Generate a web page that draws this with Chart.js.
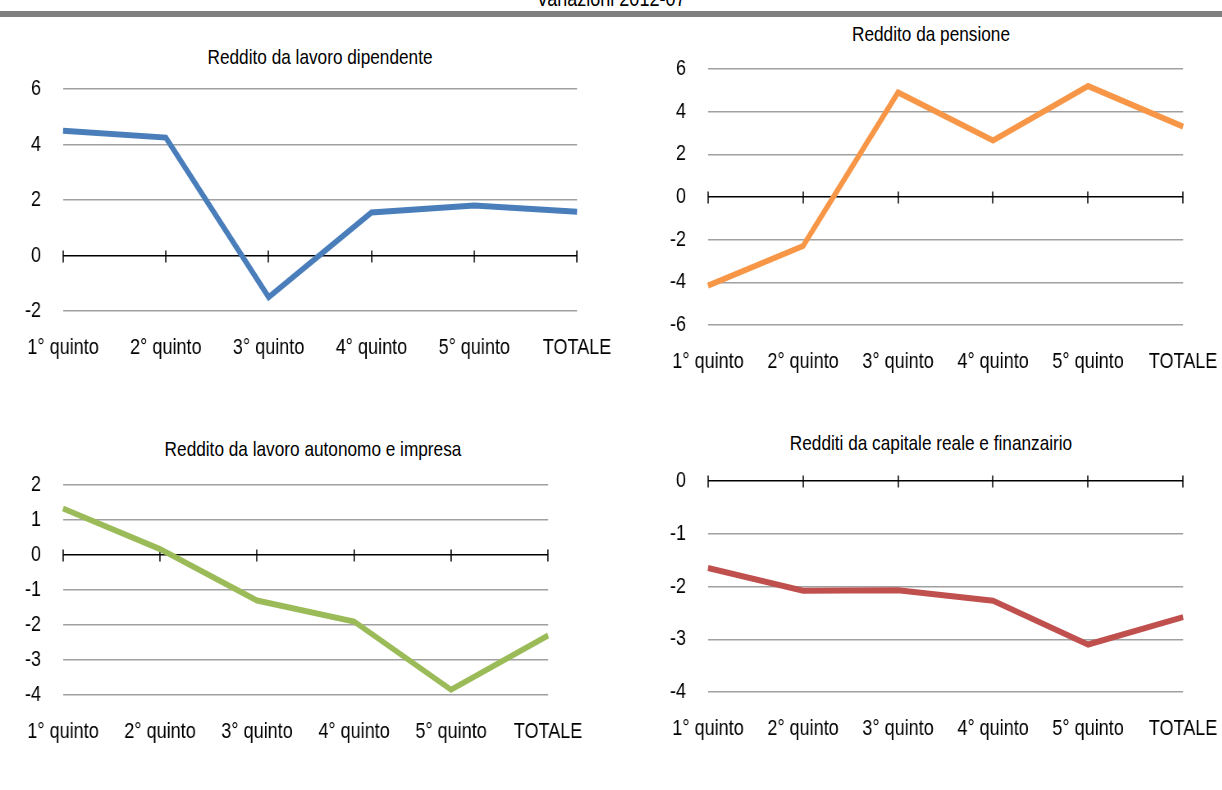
<!DOCTYPE html>
<html lang="it">
<head>
<meta charset="utf-8">
<title>Variazioni 2012-07</title>
<script src="https://cdn.jsdelivr.net/npm/chart.js@4.4.1/dist/chart.umd.min.js"></script>
<style>
  html, body { margin: 0; padding: 0; background: #fff; }
  body { width: 1222px; height: 790px; position: relative; overflow: hidden;
         font-family: 'Liberation Sans', Arial, sans-serif; color: #000; }
  .bar { position: absolute; left: 0; top: 11px; width: 1222px; height: 6px; background: #808080; }
  .main-title { position: absolute; left: 611px; top: -12px; font-size: 22px; line-height: 22px; white-space: nowrap;
                transform: translateX(-50%) scaleX(0.82); }
  .panel-title { position: absolute; font-size: 21px; line-height: 24px; white-space: nowrap;
                 transform: translate(-50%, -50%) scaleX(0.82); }
  canvas { position: absolute; }
</style>
</head>
<body>
<div class="main-title">Variazioni 2012-07</div>
<div class="bar"></div>

<div class="panel-title" style="left:320px; top:57px;">Reddito da lavoro dipendente</div>
<div class="panel-title" style="left:931px; top:34px;">Reddito da pensione</div>
<div class="panel-title" style="left:313px; top:449px;">Reddito da lavoro autonomo e impresa</div>
<div class="panel-title" style="left:931px; top:443px;">Redditi da capitale reale e finanzairio</div>

<script>
// Categorie (quinti di reddito) e variazioni 2012-07 per fonte di reddito
const quintili = ['1° quinto', '2° quinto', '3° quinto', '4° quinto', '5° quinto', 'TOTALE'];

const lavoroDipendente = [4.5, 4.25, -1.5, 1.55, 1.8, 1.58];
const pensione = [-4.15, -2.3, 4.9, 2.65, 5.2, 3.3];
const lavoroAutonomo = [1.33, 0.17, -1.3, -1.9, -3.85, -2.3];
const capitale = [-1.65, -2.08, -2.07, -2.27, -3.1, -2.58];

// Scale verticali: [min, max, passo]
const scalaDipendente = [-2, 6, 2];
const scalaPensione = [-6, 6, 2];
const scalaAutonomo = [-4, 2, 1];
const scalaCapitale = [-4, 0, 1];

const FONT = "'Liberation Sans', Arial, sans-serif";
const SX = 0.82; // carattere stretto: il canvas è compresso in orizzontale

// Asse dello zero con tacche sulle categorie
const zeroAxisTicks = {
  id: 'zeroAxisTicks',
  beforeDatasetsDraw(chart) {
    const x = chart.scales.x, y = chart.scales.y, ctx = chart.ctx;
    const py = Math.round(y.getPixelForValue(0)) + 0.5;
    ctx.save();
    ctx.strokeStyle = '#000';
    ctx.lineWidth = 1.5;
    ctx.beginPath();
    for (let i = 0; i < x.ticks.length; i++) {
      const px = Math.round(x.getPixelForTick(i));
      ctx.moveTo(px, py - 6);
      ctx.lineTo(px, py + 6);
    }
    ctx.stroke();
    ctx.restore();
  }
};

function build(values, color, scale, w, h, dims) {
  const canvas = document.createElement('canvas');
  canvas.width = Math.round(w);
  canvas.height = Math.round(h);
  canvas.style.width = (Math.round(w) * SX) + 'px';
  canvas.style.height = Math.round(h) + 'px';
  document.body.appendChild(canvas);

  return new Chart(canvas, {
    type: 'line',
    data: {
      labels: quintili,
      datasets: [{
        data: values,
        borderColor: color,
        backgroundColor: color,
        borderWidth: 6,
        pointRadius: 0,
        pointHoverRadius: 0,
        tension: 0,
        fill: false,
        borderJoinStyle: 'miter',
        borderCapStyle: 'butt'
      }]
    },
    options: {
      responsive: false,
      animation: false,
      events: [],
      layout: { padding: { top: dims.padTop, right: dims.padRight, left: 0, bottom: 0 } },
      plugins: { legend: { display: false }, tooltip: { enabled: false }, title: { display: false } },
      scales: {
        x: {
          type: 'category',
          offset: false,
          grid: { display: false, drawTicks: false },
          border: { display: false },
          ticks: { color: '#000', font: { family: FONT, size: 22 }, padding: 24, maxRotation: 0, autoSkip: false },
          afterFit(s) { s.height = dims.xh; }
        },
        y: {
          min: scale[0], max: scale[1],
          grid: {
            drawTicks: false,
            color: c => (c.tick && c.tick.value === 0) ? '#000' : '#a0a0a0',
            lineWidth: 1.4
          },
          border: { display: false },
          ticks: { stepSize: scale[2], color: '#000', font: { family: FONT, size: 22 }, padding: 22 / SX },
          afterFit(s) { s.width = dims.yw; }
        }
      }
    },
    plugins: [zeroAxisTicks]
  });
}

function makePanel(values, color, scale, area) {
  const dims = { yw: 63 / SX, padTop: 20, padRight: 45 / SX, xh: 60 };
  const wantW = (area.right - area.left) / SX;
  const wantH = area.bottom - area.top;
  let w = wantW + dims.yw + dims.padRight;
  let h = wantH + dims.padTop + dims.xh;
  let chart = build(values, color, scale, w, h, dims);
  let ca = chart.chartArea;
  const dw = wantW - (ca.right - ca.left);
  const dh = wantH - (ca.bottom - ca.top);
  if (Math.abs(dw) > 0.5 || Math.abs(dh) > 0.5) {
    const old = chart.canvas;
    chart.destroy();
    old.remove();
    w += dw; h += dh;
    chart = build(values, color, scale, w, h, dims);
    ca = chart.chartArea;
  }
  chart.canvas.style.left = (area.left - ca.left * SX) + 'px';
  chart.canvas.style.top = (area.top - ca.top) + 'px';
  return chart;
}

makePanel(lavoroDipendente, '#4a7ebb', scalaDipendente, { left: 63, right: 577, top: 89, bottom: 311 });
makePanel(pensione, '#f79646', scalaPensione, { left: 708, right: 1183, top: 69, bottom: 325 });
makePanel(lavoroAutonomo, '#9bbb59', scalaAutonomo, { left: 63, right: 548, top: 485, bottom: 695 });
makePanel(capitale, '#c0504d', scalaCapitale, { left: 708, right: 1183, top: 481, bottom: 692 });
</script>
</body>
</html>
